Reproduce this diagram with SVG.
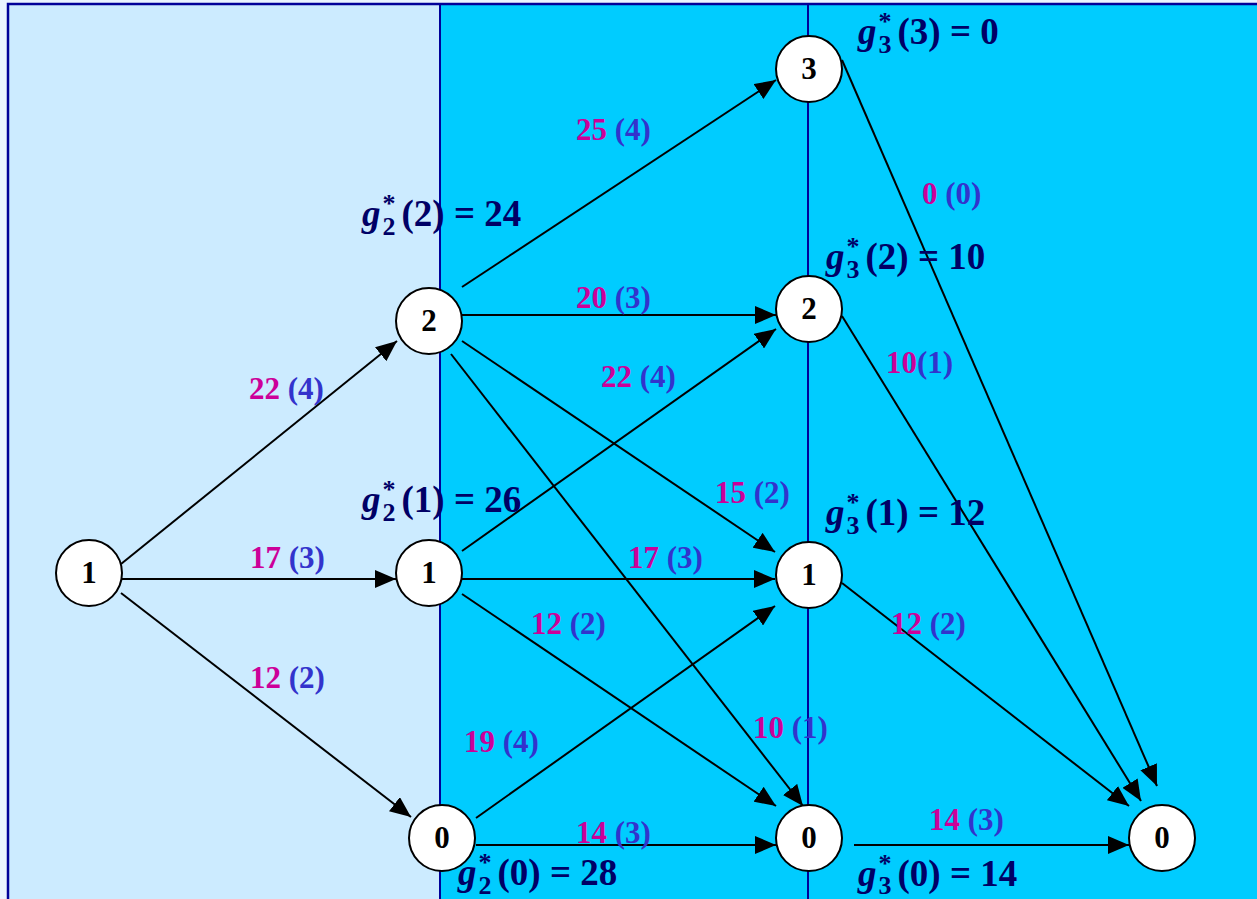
<svg xmlns="http://www.w3.org/2000/svg" width="1257" height="899" viewBox="0 0 1257 899">
<style>
.bg{fill:#EAF4FF}
.panel1{fill:#CCEBFF}
.panel2{fill:#00CCFF}
.frame{fill:none;stroke:#000099;stroke-width:2.5}
.div{stroke:#000099;stroke-width:2}
.edge{stroke:#000;stroke-width:2;fill:none;marker-end:url(#ah)}
.node circle{fill:#fff;stroke:#000;stroke-width:2}
.node text{font-family:"Liberation Serif",serif;font-weight:bold;font-size:31px;fill:#000;text-anchor:middle}
.lbl{font-family:"Liberation Serif",serif;font-weight:bold;font-size:31px}
.c{fill:#CC0099}
.s{fill:#3333CC}
.g{font-family:"Liberation Serif",serif;font-weight:bold;font-size:37px;fill:#000066}
.gi{font-style:italic}
.sm{font-size:26px}
</style>
<defs>
<marker id="ah" markerUnits="userSpaceOnUse" markerWidth="22" markerHeight="18" refX="21" refY="9" orient="auto">
<path d="M0,0 L21,9 L0,18 Z" fill="#000"/>
</marker>
</defs>
<g id="background">
<rect class="bg" x="0" y="0" width="1257" height="899"/>
<rect class="panel2" x="8" y="4" width="1262" height="900"/>
<rect class="panel1" x="8" y="4" width="432" height="900"/>
<rect class="frame" x="8" y="4" width="1262" height="900"/>
<line class="div" x1="440" y1="4" x2="440" y2="899"/>
<line class="div" x1="808" y1="4" x2="808" y2="899"/>
</g>
<g id="connectors">
<line class="edge" x1="121" y1="564" x2="397" y2="341"/>
<line class="edge" x1="122" y1="579" x2="396" y2="579"/>
<line class="edge" x1="121" y1="593" x2="411" y2="817"/>
<line class="edge" x1="462" y1="287" x2="776" y2="80"/>
<line class="edge" x1="462" y1="315" x2="776" y2="315"/>
<line class="edge" x1="462" y1="341" x2="775" y2="552"/>
<line class="edge" x1="451" y1="354" x2="803" y2="806"/>
<line class="edge" x1="462" y1="551" x2="776" y2="329"/>
<line class="edge" x1="462" y1="579" x2="775" y2="579"/>
<line class="edge" x1="462" y1="594" x2="776" y2="806"/>
<line class="edge" x1="476" y1="818" x2="775" y2="606"/>
<line class="edge" x1="476" y1="845" x2="776" y2="845"/>
<line class="edge" x1="842" y1="60" x2="1157" y2="786"/>
<line class="edge" x1="842" y1="316" x2="1141" y2="801"/>
<line class="edge" x1="842" y1="583" x2="1129" y2="806"/>
<line class="edge" x1="854" y1="845" x2="1129" y2="845"/>
</g>
<g id="edge-labels">
<text class="lbl" x="249" y="399"><tspan class="c">22</tspan> <tspan class="s">(4)</tspan></text>
<text class="lbl" x="250" y="568"><tspan class="c">17</tspan> <tspan class="s">(3)</tspan></text>
<text class="lbl" x="250" y="688"><tspan class="c">12</tspan> <tspan class="s">(2)</tspan></text>
<text class="lbl" x="576" y="140"><tspan class="c">25</tspan> <tspan class="s">(4)</tspan></text>
<text class="lbl" x="576" y="308"><tspan class="c">20</tspan> <tspan class="s">(3)</tspan></text>
<text class="lbl" x="601" y="387"><tspan class="c">22</tspan> <tspan class="s">(4)</tspan></text>
<text class="lbl" x="715" y="503"><tspan class="c">15</tspan> <tspan class="s">(2)</tspan></text>
<text class="lbl" x="628" y="568"><tspan class="c">17</tspan> <tspan class="s">(3)</tspan></text>
<text class="lbl" x="531" y="634"><tspan class="c">12</tspan> <tspan class="s">(2)</tspan></text>
<text class="lbl" x="464" y="752"><tspan class="c">19</tspan> <tspan class="s">(4)</tspan></text>
<text class="lbl" x="753" y="738"><tspan class="c">10</tspan> <tspan class="s">(1)</tspan></text>
<text class="lbl" x="576" y="843"><tspan class="c">14</tspan> <tspan class="s">(3)</tspan></text>
<text class="lbl" x="922" y="204"><tspan class="c">0</tspan> <tspan class="s">(0)</tspan></text>
<text class="lbl" x="886" y="373"><tspan class="c">10</tspan><tspan class="s">(1)</tspan></text>
<text class="lbl" x="891" y="634"><tspan class="c">12</tspan> <tspan class="s">(2)</tspan></text>
<text class="lbl" x="929" y="830"><tspan class="c">14</tspan> <tspan class="s">(3)</tspan></text>
</g>
<g id="value-labels">
<text id="g2-2" class="g" x="362" y="226"><tspan class="gi">g</tspan><tspan class="sm" dx="2" dy="-14">*</tspan><tspan class="sm" dx="-13" dy="23">2</tspan><tspan dx="6" dy="-9">(2) = 24</tspan></text>
<text id="g2-1" class="g" x="362" y="512"><tspan class="gi">g</tspan><tspan class="sm" dx="2" dy="-14">*</tspan><tspan class="sm" dx="-13" dy="23">2</tspan><tspan dx="6" dy="-9">(1) = 26</tspan></text>
<text id="g2-0" class="g" x="458" y="885"><tspan class="gi">g</tspan><tspan class="sm" dx="2" dy="-14">*</tspan><tspan class="sm" dx="-13" dy="23">2</tspan><tspan dx="6" dy="-9">(0) = 28</tspan></text>
<text id="g3-3" class="g" x="858" y="44"><tspan class="gi">g</tspan><tspan class="sm" dx="2" dy="-14">*</tspan><tspan class="sm" dx="-13" dy="23">3</tspan><tspan dx="6" dy="-9">(3) = 0</tspan></text>
<text id="g3-2" class="g" x="826" y="269"><tspan class="gi">g</tspan><tspan class="sm" dx="2" dy="-14">*</tspan><tspan class="sm" dx="-13" dy="23">3</tspan><tspan dx="6" dy="-9">(2) = 10</tspan></text>
<text id="g3-1" class="g" x="826" y="525"><tspan class="gi">g</tspan><tspan class="sm" dx="2" dy="-14">*</tspan><tspan class="sm" dx="-13" dy="23">3</tspan><tspan dx="6" dy="-9">(1) = 12</tspan></text>
<text id="g3-0" class="g" x="858" y="886"><tspan class="gi">g</tspan><tspan class="sm" dx="2" dy="-14">*</tspan><tspan class="sm" dx="-13" dy="22">3</tspan><tspan dx="6" dy="-8">(0) = 14</tspan></text>
</g>
<g id="n1-1" class="node"><circle cx="89" cy="573" r="33"/><text x="89" y="583">1</text></g>
<g id="n2-2" class="node"><circle cx="429" cy="321" r="33"/><text x="429" y="331">2</text></g>
<g id="n2-1" class="node"><circle cx="429" cy="573" r="33"/><text x="429" y="583">1</text></g>
<g id="n2-0" class="node"><circle cx="442" cy="838" r="33"/><text x="442" y="848">0</text></g>
<g id="n3-3" class="node"><circle cx="809" cy="69" r="33"/><text x="809" y="79">3</text></g>
<g id="n3-2" class="node"><circle cx="809" cy="309" r="33"/><text x="809" y="319">2</text></g>
<g id="n3-1" class="node"><circle cx="809" cy="575" r="33"/><text x="809" y="585">1</text></g>
<g id="n3-0" class="node"><circle cx="809" cy="838" r="33"/><text x="809" y="848">0</text></g>
<g id="n4-0" class="node"><circle cx="1162" cy="838" r="33"/><text x="1162" y="848">0</text></g>
</svg>
